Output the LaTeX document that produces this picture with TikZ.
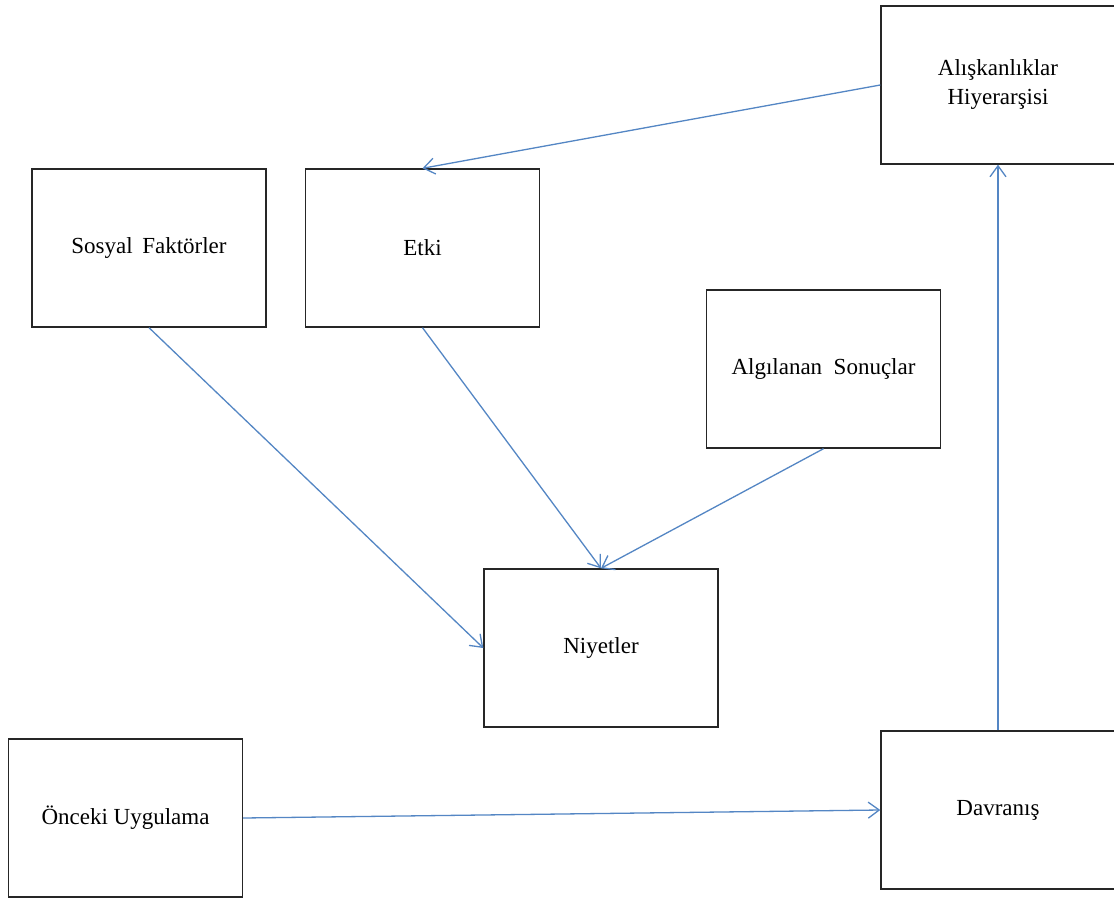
\documentclass[tikz,border=0pt]{standalone}
\usepackage{fontspec}
\setmainfont{Liberation Serif}
\usetikzlibrary{arrows.meta}
\definecolor{linkblue}{RGB}{84,134,196}
\begin{document}
\begin{tikzpicture}[x=1pt,y=-1pt,
  box/.style={draw=black!85, line width=1.4pt, fill=white, minimum width=234pt,
    minimum height=158pt, inner sep=0pt, align=center,
    font=\fontsize{23}{29}\selectfont},
  link/.style={draw=linkblue, line width=1.3pt,
    -{Straight Barb[length=11pt,width=16pt,line width=1.3pt]}}]
\useasboundingbox (0,0) rectangle (1114,902);
\fill[white] (0,0) rectangle (1114,902);

\node[box] (habit) at (998,85) {Alışkanlıklar\\Hiyerarşisi};
\node[box] (social) at (149,248) {Sosyal\ \,Faktörler};
\node[box] (affect) at (422.5,248) {Etki};
\node[box] (conseq) at (823.5,369) {Algılanan\ \ Sonuçlar};
\node[box] (intent) at (601,648) {Niyetler};
\node[box] (prior) at (125.5,818) {Önceki Uygulama};
\node[box] (behav) at (998,810) {Davranış};

\draw[link] (habit.west) -- (affect.north);
\draw[link] (social.south) -- (intent.west);
\draw[link] (affect.south) -- (intent.north);
\draw[link] (conseq.south) -- (intent.north);
\draw[link] (prior.east) -- (behav.west);
\draw[link] (behav.north) -- (habit.south);
\end{tikzpicture}
\end{document}
